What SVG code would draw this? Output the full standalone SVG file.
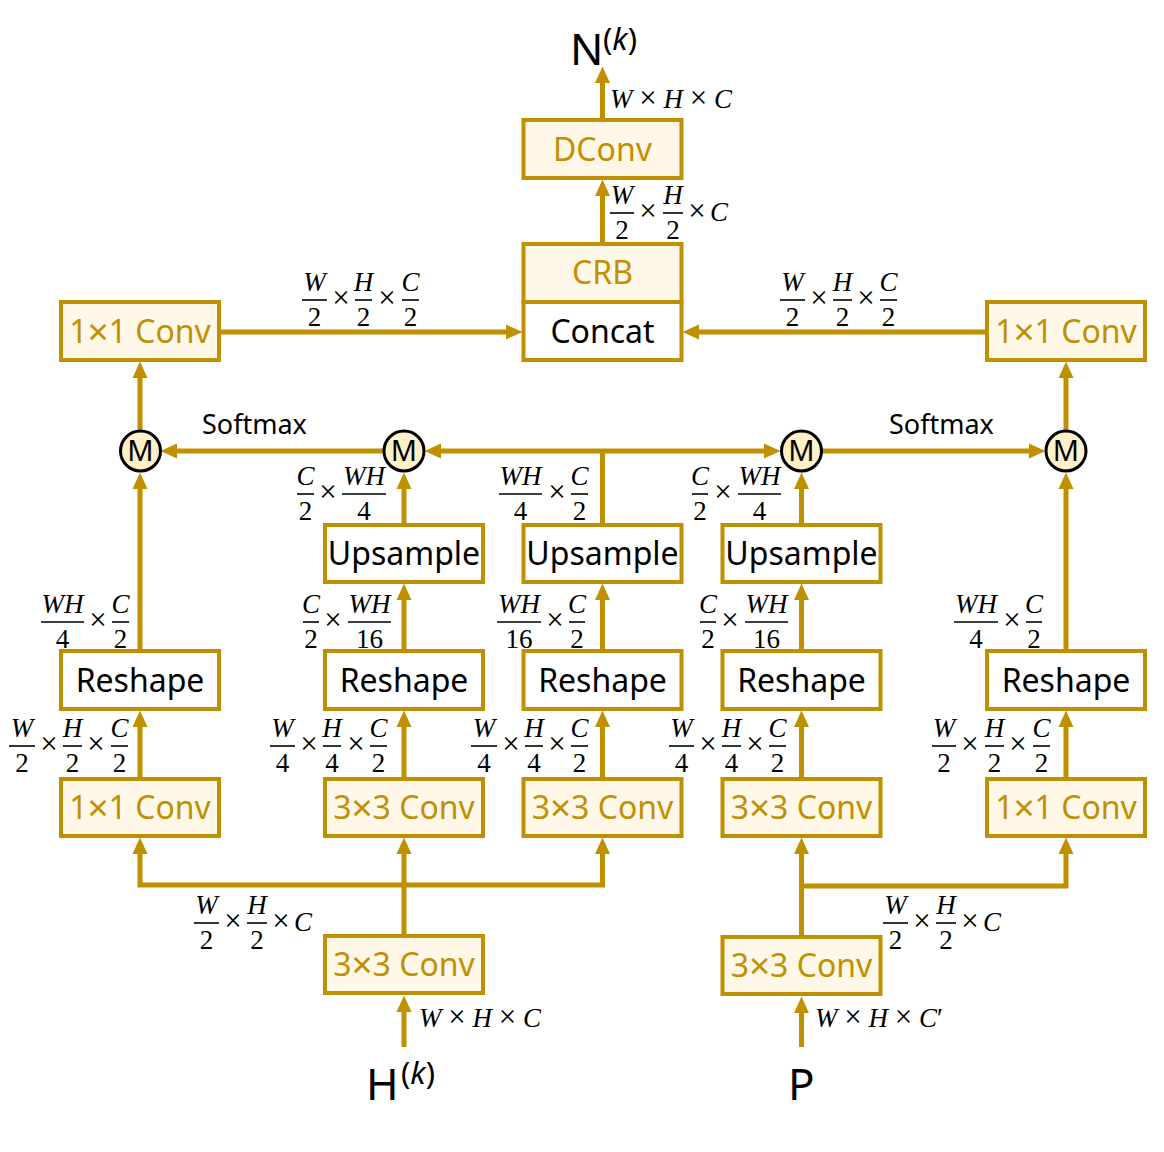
<svg xmlns="http://www.w3.org/2000/svg" width="1164" height="1152" viewBox="0 0 1164 1152">
<defs>
<marker id="ah" markerUnits="userSpaceOnUse" markerWidth="18" markerHeight="16" viewBox="0 -8 18 16" refX="0" refY="0" orient="auto-start-reverse">
<path d="M0,-7.5 L16.5,0 L0,7.5 z" fill="#BF9000"/>
</marker>
<style>
.box{fill:#FFF8E8;stroke:#BF9000;stroke-width:4}
.wbox{fill:#FFFFFF;stroke:#BF9000;stroke-width:4}
.c{fill:none;stroke:#BF9000;stroke-width:5}
.gt{font-family:"Noto Sans","Open Sans",sans-serif;font-size:32px;fill:#BF9000;text-anchor:middle}
.bt{font-family:"Noto Sans","Open Sans",sans-serif;font-size:32px;fill:#000;text-anchor:middle}
.bx{font-size:37px}
.sm{font-family:"Noto Sans","Open Sans",sans-serif;font-size:27px;fill:#000}
.mc{fill:#FFF0C8;stroke:#000;stroke-width:3}
.mt{font-family:"Noto Sans","Open Sans",sans-serif;font-size:29px;fill:#000;text-anchor:middle}
.ti{font-family:"Noto Sans","Open Sans",sans-serif;font-size:44px;fill:#000}
.sup{font-family:"Noto Sans","Open Sans",sans-serif;font-size:31px;fill:#000}
.mth{font-family:"Liberation Serif","Times New Roman",serif;font-size:27px;fill:#000}
.mid{text-anchor:middle}
.i{font-style:italic}
.x{font-size:31px}
.bar{stroke:#000;stroke-width:1.6}
</style>
</defs>

<g id="connectors">
<line class="c" x1="404" y1="1047" x2="404" y2="1012" marker-end="url(#ah)"/>
<line class="c" x1="801.5" y1="1047" x2="801.5" y2="1013" marker-end="url(#ah)"/>
<line class="c" x1="404" y1="935" x2="404" y2="854" marker-end="url(#ah)"/>
<path class="c" d="M140,854 L140,885 L602.5,885 L602.5,854" marker-start="url(#ah)" marker-end="url(#ah)"/>
<line class="c" x1="801.5" y1="936" x2="801.5" y2="854" marker-end="url(#ah)"/>
<path class="c" d="M801.5,886 L1066,886 L1066,854" marker-end="url(#ah)"/>
<line class="c" x1="140" y1="778" x2="140" y2="727" marker-end="url(#ah)"/>
<line class="c" x1="404" y1="778" x2="404" y2="727" marker-end="url(#ah)"/>
<line class="c" x1="602.5" y1="778" x2="602.5" y2="727" marker-end="url(#ah)"/>
<line class="c" x1="801.5" y1="778" x2="801.5" y2="727" marker-end="url(#ah)"/>
<line class="c" x1="1066" y1="778" x2="1066" y2="727" marker-end="url(#ah)"/>
<line class="c" x1="404" y1="651" x2="404" y2="600" marker-end="url(#ah)"/>
<line class="c" x1="602.5" y1="651" x2="602.5" y2="600" marker-end="url(#ah)"/>
<line class="c" x1="801.5" y1="651" x2="801.5" y2="600" marker-end="url(#ah)"/>
<line class="c" x1="404" y1="524" x2="404" y2="489" marker-end="url(#ah)"/>
<line class="c" x1="801.5" y1="524" x2="801.5" y2="489" marker-end="url(#ah)"/>
<line class="c" x1="140" y1="651" x2="140" y2="489" marker-end="url(#ah)"/>
<line class="c" x1="1066" y1="651" x2="1066" y2="489" marker-end="url(#ah)"/>
<line class="c" x1="602.5" y1="524" x2="602.5" y2="451"/>
<line class="c" x1="441" y1="451" x2="764" y2="451" marker-start="url(#ah)" marker-end="url(#ah)"/>
<line class="c" x1="383" y1="451" x2="177" y2="451" marker-end="url(#ah)"/>
<line class="c" x1="822" y1="451" x2="1029" y2="451" marker-end="url(#ah)"/>
<line class="c" x1="140" y1="430" x2="140" y2="378" marker-end="url(#ah)"/>
<line class="c" x1="1066" y1="430" x2="1066" y2="378" marker-end="url(#ah)"/>
<line class="c" x1="220" y1="332" x2="506" y2="332" marker-end="url(#ah)"/>
<line class="c" x1="985" y1="332" x2="699" y2="332" marker-end="url(#ah)"/>
<line class="c" x1="602.5" y1="243" x2="602.5" y2="196" marker-end="url(#ah)"/>
<line class="c" x1="602.5" y1="120" x2="602.5" y2="83" marker-end="url(#ah)"/>
</g>

<g id="n-title">
<text class="ti" x="570" y="65">N</text>
<text class="sup" x="603" y="50">(<tspan class="i">k</tspan>)</text>
</g>
<g id="dconv"><rect class="box" x="523.5" y="120" width="158" height="58"/><text class="gt" x="602.5" y="161">DConv</text></g>
<g id="crb-concat">
<rect class="box" x="523.5" y="244" width="158" height="58"/>
<rect class="wbox" x="523.5" y="302" width="158" height="58"/>
<text class="gt" x="602.5" y="284">CRB</text>
<text class="bt" x="602.5" y="343">Concat</text>
</g>
<g id="conv1x1-top-left"><rect class="box" x="61" y="302" width="158" height="58"/><text class="gt" x="140" y="343">1<tspan class="bx" dy="2">×</tspan><tspan dy="-2">1 Conv</tspan></text></g>
<g id="conv1x1-top-right"><rect class="box" x="987" y="302" width="158" height="58"/><text class="gt" x="1066" y="343">1<tspan class="bx" dy="2">×</tspan><tspan dy="-2">1 Conv</tspan></text></g>

<g id="m1"><circle class="mc" cx="140.5" cy="451" r="20"/><text class="mt" x="140.5" y="461">M</text></g>
<g id="m2"><circle class="mc" cx="404" cy="451" r="20"/><text class="mt" x="404" y="461">M</text></g>
<g id="m3"><circle class="mc" cx="801.5" cy="451" r="20"/><text class="mt" x="801.5" y="461">M</text></g>
<g id="m4"><circle class="mc" cx="1066" cy="451" r="20"/><text class="mt" x="1066" y="461">M</text></g>
<text class="sm" x="202" y="434">Softmax</text>
<text class="sm" x="889" y="434">Softmax</text>

<g id="up2"><rect class="wbox" x="325" y="525" width="158" height="57"/><text class="bt" x="404" y="565">Upsample</text></g>
<g id="up3"><rect class="wbox" x="523.5" y="525" width="158" height="57"/><text class="bt" x="602.5" y="565">Upsample</text></g>
<g id="up4"><rect class="wbox" x="722.5" y="525" width="158" height="57"/><text class="bt" x="801.5" y="565">Upsample</text></g>

<g id="rs1"><rect class="wbox" x="61" y="651" width="158" height="58"/><text class="bt" x="140" y="692">Reshape</text></g>
<g id="rs2"><rect class="wbox" x="325" y="651" width="158" height="58"/><text class="bt" x="404" y="692">Reshape</text></g>
<g id="rs3"><rect class="wbox" x="523.5" y="651" width="158" height="58"/><text class="bt" x="602.5" y="692">Reshape</text></g>
<g id="rs4"><rect class="wbox" x="722.5" y="651" width="158" height="58"/><text class="bt" x="801.5" y="692">Reshape</text></g>
<g id="rs5"><rect class="wbox" x="987" y="651" width="158" height="58"/><text class="bt" x="1066" y="692">Reshape</text></g>

<g id="cv1"><rect class="box" x="61" y="779" width="158" height="57"/><text class="gt" x="140" y="819">1<tspan class="bx" dy="2">×</tspan><tspan dy="-2">1 Conv</tspan></text></g>
<g id="cv2"><rect class="box" x="325" y="779" width="158" height="57"/><text class="gt" x="404" y="819">3<tspan class="bx" dy="2">×</tspan><tspan dy="-2">3 Conv</tspan></text></g>
<g id="cv3"><rect class="box" x="523.5" y="779" width="158" height="57"/><text class="gt" x="602.5" y="819">3<tspan class="bx" dy="2">×</tspan><tspan dy="-2">3 Conv</tspan></text></g>
<g id="cv4"><rect class="box" x="722.5" y="779" width="158" height="57"/><text class="gt" x="801.5" y="819">3<tspan class="bx" dy="2">×</tspan><tspan dy="-2">3 Conv</tspan></text></g>
<g id="cv5"><rect class="box" x="987" y="779" width="158" height="57"/><text class="gt" x="1066" y="819">1<tspan class="bx" dy="2">×</tspan><tspan dy="-2">1 Conv</tspan></text></g>

<g id="cvb-left"><rect class="box" x="325" y="936" width="158" height="57"/><text class="gt" x="404" y="976">3<tspan class="bx" dy="2">×</tspan><tspan dy="-2">3 Conv</tspan></text></g>
<g id="cvb-right"><rect class="box" x="722.5" y="937" width="158" height="57"/><text class="gt" x="801.5" y="977">3<tspan class="bx" dy="2">×</tspan><tspan dy="-2">3 Conv</tspan></text></g>

<g id="h-title"><text class="ti" x="366" y="1100">H</text><text class="sup" x="401" y="1084">(<tspan class="i">k</tspan>)</text></g>
<g id="p-title"><text class="ti" x="788" y="1100">P</text></g>

<g id="labels" class="mth">
<text x="610" y="108"><tspan class="i">W</tspan> <tspan class="x">×</tspan> <tspan class="i">H</tspan> <tspan class="x">×</tspan> <tspan class="i">C</tspan></text>
<line class="bar" x1="610" y1="213" x2="634" y2="213"/><text class="mid i" x="622" y="204">W</text><text class="mid" x="622" y="239">2</text>
<text class="mid x" x="648" y="221">×</text>
<line class="bar" x1="663" y1="213" x2="683" y2="213"/><text class="mid i" x="673" y="204">H</text><text class="mid" x="673" y="239">2</text>
<text class="mid x" x="697" y="221">×</text>
<text class="i" x="710" y="221">C</text>

<line class="bar" x1="302" y1="300" x2="327" y2="300"/><text class="mid i" x="314.5" y="291">W</text><text class="mid" x="314.5" y="326">2</text>
<text class="mid x" x="341" y="308">×</text>
<line class="bar" x1="355" y1="300" x2="372" y2="300"/><text class="mid i" x="363.5" y="291">H</text><text class="mid" x="363.5" y="326">2</text>
<text class="mid x" x="387" y="308">×</text>
<line class="bar" x1="402" y1="300" x2="419" y2="300"/><text class="mid i" x="410.5" y="291">C</text><text class="mid" x="410.5" y="326">2</text>

<line class="bar" x1="780" y1="300" x2="805" y2="300"/><text class="mid i" x="792.5" y="291">W</text><text class="mid" x="792.5" y="326">2</text>
<text class="mid x" x="819" y="308">×</text>
<line class="bar" x1="833" y1="300" x2="852" y2="300"/><text class="mid i" x="842.5" y="291">H</text><text class="mid" x="842.5" y="326">2</text>
<text class="mid x" x="866" y="308">×</text>
<line class="bar" x1="880" y1="300" x2="897" y2="300"/><text class="mid i" x="888.5" y="291">C</text><text class="mid" x="888.5" y="326">2</text>

<line class="bar" x1="297" y1="494" x2="314" y2="494"/><text class="mid i" x="305.5" y="485">C</text><text class="mid" x="305.5" y="520">2</text>
<text class="mid x" x="328" y="502">×</text>
<line class="bar" x1="342" y1="494" x2="386" y2="494"/><text class="mid i" x="364" y="485">WH</text><text class="mid" x="364" y="520">4</text>

<line class="bar" x1="499" y1="494" x2="542" y2="494"/><text class="mid i" x="520.5" y="485">WH</text><text class="mid" x="520.5" y="520">4</text>
<text class="mid x" x="557" y="502">×</text>
<line class="bar" x1="571" y1="494" x2="588" y2="494"/><text class="mid i" x="579.5" y="485">C</text><text class="mid" x="579.5" y="520">2</text>

<line class="bar" x1="692" y1="494" x2="708" y2="494"/><text class="mid i" x="700" y="485">C</text><text class="mid" x="700" y="520">2</text>
<text class="mid x" x="723" y="502">×</text>
<line class="bar" x1="738" y1="494" x2="781" y2="494"/><text class="mid i" x="759.5" y="485">WH</text><text class="mid" x="759.5" y="520">4</text>

<line class="bar" x1="41" y1="622" x2="84" y2="622"/><text class="mid i" x="62.5" y="613">WH</text><text class="mid" x="62.5" y="648">4</text>
<text class="mid x" x="98" y="630">×</text>
<line class="bar" x1="112" y1="622" x2="129" y2="622"/><text class="mid i" x="120.5" y="613">C</text><text class="mid" x="120.5" y="648">2</text>

<line class="bar" x1="303" y1="622" x2="319" y2="622"/><text class="mid i" x="311" y="613">C</text><text class="mid" x="311" y="648">2</text>
<text class="mid x" x="333" y="630">×</text>
<line class="bar" x1="348" y1="622" x2="391" y2="622"/><text class="mid i" x="369.5" y="613">WH</text><text class="mid" x="369.5" y="648">16</text>

<line class="bar" x1="497" y1="622" x2="541" y2="622"/><text class="mid i" x="519" y="613">WH</text><text class="mid" x="519" y="648">16</text>
<text class="mid x" x="555" y="630">×</text>
<line class="bar" x1="569" y1="622" x2="585" y2="622"/><text class="mid i" x="577" y="613">C</text><text class="mid" x="577" y="648">2</text>

<line class="bar" x1="700" y1="622" x2="716" y2="622"/><text class="mid i" x="708" y="613">C</text><text class="mid" x="708" y="648">2</text>
<text class="mid x" x="730" y="630">×</text>
<line class="bar" x1="745" y1="622" x2="788" y2="622"/><text class="mid i" x="766.5" y="613">WH</text><text class="mid" x="766.5" y="648">16</text>

<line class="bar" x1="954" y1="622" x2="998" y2="622"/><text class="mid i" x="976" y="613">WH</text><text class="mid" x="976" y="648">4</text>
<text class="mid x" x="1012" y="630">×</text>
<line class="bar" x1="1026" y1="622" x2="1042" y2="622"/><text class="mid i" x="1034" y="613">C</text><text class="mid" x="1034" y="648">2</text>

<line class="bar" x1="9" y1="746" x2="35" y2="746"/><text class="mid i" x="22" y="737">W</text><text class="mid" x="22" y="772">2</text>
<text class="mid x" x="49" y="754">×</text>
<line class="bar" x1="63" y1="746" x2="82" y2="746"/><text class="mid i" x="72.5" y="737">H</text><text class="mid" x="72.5" y="772">2</text>
<text class="mid x" x="96" y="754">×</text>
<line class="bar" x1="111" y1="746" x2="128" y2="746"/><text class="mid i" x="119.5" y="737">C</text><text class="mid" x="119.5" y="772">2</text>

<line class="bar" x1="270" y1="746" x2="295" y2="746"/><text class="mid i" x="282.5" y="737">W</text><text class="mid" x="282.5" y="772">4</text>
<text class="mid x" x="309" y="754">×</text>
<line class="bar" x1="323" y1="746" x2="341" y2="746"/><text class="mid i" x="332" y="737">H</text><text class="mid" x="332" y="772">4</text>
<text class="mid x" x="356" y="754">×</text>
<line class="bar" x1="370" y1="746" x2="387" y2="746"/><text class="mid i" x="378.5" y="737">C</text><text class="mid" x="378.5" y="772">2</text>

<line class="bar" x1="471" y1="746" x2="497" y2="746"/><text class="mid i" x="484" y="737">W</text><text class="mid" x="484" y="772">4</text>
<text class="mid x" x="511" y="754">×</text>
<line class="bar" x1="525" y1="746" x2="543" y2="746"/><text class="mid i" x="534" y="737">H</text><text class="mid" x="534" y="772">4</text>
<text class="mid x" x="557" y="754">×</text>
<line class="bar" x1="571" y1="746" x2="588" y2="746"/><text class="mid i" x="579.5" y="737">C</text><text class="mid" x="579.5" y="772">2</text>

<line class="bar" x1="669" y1="746" x2="694" y2="746"/><text class="mid i" x="681.5" y="737">W</text><text class="mid" x="681.5" y="772">4</text>
<text class="mid x" x="708" y="754">×</text>
<line class="bar" x1="722" y1="746" x2="741" y2="746"/><text class="mid i" x="731.5" y="737">H</text><text class="mid" x="731.5" y="772">4</text>
<text class="mid x" x="755" y="754">×</text>
<line class="bar" x1="769" y1="746" x2="786" y2="746"/><text class="mid i" x="777.5" y="737">C</text><text class="mid" x="777.5" y="772">2</text>

<line class="bar" x1="932" y1="746" x2="956" y2="746"/><text class="mid i" x="944" y="737">W</text><text class="mid" x="944" y="772">2</text>
<text class="mid x" x="970" y="754">×</text>
<line class="bar" x1="985" y1="746" x2="1004" y2="746"/><text class="mid i" x="994.5" y="737">H</text><text class="mid" x="994.5" y="772">2</text>
<text class="mid x" x="1018" y="754">×</text>
<line class="bar" x1="1033" y1="746" x2="1050" y2="746"/><text class="mid i" x="1041.5" y="737">C</text><text class="mid" x="1041.5" y="772">2</text>

<line class="bar" x1="194" y1="923" x2="219" y2="923"/><text class="mid i" x="206.5" y="914">W</text><text class="mid" x="206.5" y="949">2</text>
<text class="mid x" x="233" y="931">×</text>
<line class="bar" x1="247" y1="923" x2="267" y2="923"/><text class="mid i" x="257" y="914">H</text><text class="mid" x="257" y="949">2</text>
<text class="mid x" x="281" y="931">×</text>
<text class="i" x="294" y="931">C</text>

<line class="bar" x1="883" y1="923" x2="908" y2="923"/><text class="mid i" x="895.5" y="914">W</text><text class="mid" x="895.5" y="949">2</text>
<text class="mid x" x="922" y="931">×</text>
<line class="bar" x1="936" y1="923" x2="956" y2="923"/><text class="mid i" x="946" y="914">H</text><text class="mid" x="946" y="949">2</text>
<text class="mid x" x="970" y="931">×</text>
<text class="i" x="983" y="931">C</text>

<text x="419" y="1027"><tspan class="i">W</tspan> <tspan class="x">×</tspan> <tspan class="i">H</tspan> <tspan class="x">×</tspan> <tspan class="i">C</tspan></text>
<text x="815" y="1027"><tspan class="i">W</tspan> <tspan class="x">×</tspan> <tspan class="i">H</tspan> <tspan class="x">×</tspan> <tspan class="i">C</tspan>′</text>
</g>
</svg>
